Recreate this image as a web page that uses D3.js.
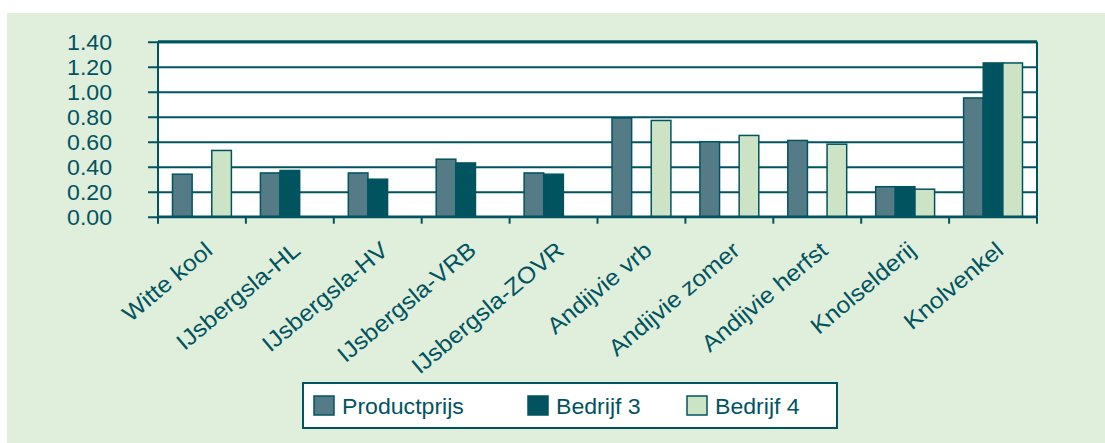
<!DOCTYPE html>
<html>
<head>
<meta charset="utf-8">
<script src="https://cdn.jsdelivr.net/npm/d3@7"></script>
<style>
  body { margin: 0; background: #fff; }
  text { font-family: "Liberation Sans", Arial, sans-serif; fill: #005460; }
</style>
</head>
<body>
<div id="chart"></div>
<script>
// data
var categories = ["Witte kool", "IJsbergsla-HL", "IJsbergsla-HV", "IJsbergsla-VRB", "IJsbergsla-ZOVR",
  "Andijvie vrb", "Andijvie zomer", "Andijvie herfst", "Knolselderij", "Knolvenkel"]
var seriesNames = ["Productprijs", "Bedrijf 3", "Bedrijf 4"]
var productprijs = [0.34, 0.35, 0.35, 0.46, 0.35, 0.79, 0.60, 0.61, 0.24, 0.95]
var bedrijf3 = [null, 0.37, 0.30, 0.43, 0.34, null, null, null, 0.24, 1.23]
var bedrijf4 = [0.53, null, null, null, null, 0.77, 0.65, 0.58, 0.22, 1.23]
var yTicks = [0, 0.2, 0.4, 0.6, 0.8, 1.0, 1.2, 1.4]

var colors = ["#557b86", "#00535f", "#cde3c5"]
var ink = "#005460"
var stretch = 1.05   // text in the original is a little wider than normal

var screen = {width: 1105, height: 443}
var plot = {left: 158, right: 1037, top: 41.7, bottom: 216.7}

var svg = d3.select("#chart").append("svg")
  .attr("width", screen.width)
  .attr("height", screen.height)

// panel background
svg.append("rect")
  .attr("x", 7).attr("y", 13)
  .attr("width", screen.width - 7).attr("height", screen.height - 13)
  .style("fill", "#e0eedc")

svg.append("rect")
  .attr("x", plot.left).attr("y", plot.top)
  .attr("width", plot.right - plot.left).attr("height", plot.bottom - plot.top)
  .style("fill", "#fff")

// scales
var xScale = d3.scaleBand()
  .domain(categories)
  .range([plot.left, plot.right])
  .paddingInner(0.33)
  .paddingOuter(0.165)
var subScale = d3.scaleBand()
  .domain(seriesNames)
  .range([0, xScale.bandwidth()])
var yScale = d3.scaleLinear()
  .domain([0, 1.4])
  .range([plot.bottom, plot.top])

// gridlines + y axis
var yAxis = d3.axisLeft(yScale)
  .tickValues(yTicks)
  .tickSize(-(plot.right - plot.left))
  .tickFormat(d3.format(".2f"))
var yg = svg.append("g")
  .attr("transform", "translate(" + plot.left + ",0)")
  .call(yAxis)
yg.select(".domain").remove()
yg.selectAll(".tick line")
  .attr("x1", -10)
  .style("stroke", ink).style("stroke-width", 2)
yg.selectAll(".tick text")
  .attr("x", 0).attr("dy", "0.36em")
  .attr("transform", "translate(-46,0) scale(" + stretch + ",1)")
  .style("font-size", "22px")
  .style("fill", ink)

// bars
var table = categories.map(function(c, i) {
  return {cat: c, values: [productprijs[i], bedrijf3[i], bedrijf4[i]]}
})
var groups = svg.selectAll(".grp")
  .data(table)
  .enter().append("g")
  .attr("class", "grp")
  .attr("transform", function(d) { return "translate(" + xScale(d.cat) + ",0)" })
groups.selectAll("rect")
  .data(function(d) {
    return d.values.map(function(v, j) { return {name: seriesNames[j], v: v, j: j} })
      .filter(function(e) { return e.v != null })
  })
  .enter().append("rect")
  .attr("x", function(d) { return subScale(d.name) })
  .attr("y", function(d) { return yScale(d.v) })
  .attr("width", subScale.bandwidth())
  .attr("height", function(d) { return yScale(0) - yScale(d.v) })
  .style("fill", function(d) { return colors[d.j] })
  .style("stroke", ink)
  .style("stroke-width", 1.5)

// frame
svg.append("line")
  .attr("x1", plot.left).attr("x2", plot.right)
  .attr("y1", plot.top).attr("y2", plot.top)
  .style("stroke", ink).style("stroke-width", 3)
svg.append("line")
  .attr("x1", plot.right).attr("x2", plot.right)
  .attr("y1", plot.top).attr("y2", plot.bottom)
  .style("stroke", ink).style("stroke-width", 2)
svg.append("line")
  .attr("x1", plot.left).attr("x2", plot.left)
  .attr("y1", plot.top).attr("y2", plot.bottom + 6)
  .style("stroke", ink).style("stroke-width", 2)
svg.append("line")
  .attr("x1", plot.left).attr("x2", plot.right)
  .attr("y1", plot.bottom).attr("y2", plot.bottom)
  .style("stroke", ink).style("stroke-width", 2.5)

// x ticks on category boundaries
var step = xScale.step()
svg.selectAll(".xtick")
  .data(d3.range(categories.length + 1))
  .enter().append("line")
  .attr("class", "xtick")
  .attr("x1", function(i) { return plot.left + i * step })
  .attr("x2", function(i) { return plot.left + i * step })
  .attr("y1", plot.bottom).attr("y2", plot.bottom + 7)
  .style("stroke", ink).style("stroke-width", 2)

// x labels
svg.selectAll(".xlabel")
  .data(categories)
  .enter().append("text")
  .attr("class", "xlabel")
  .attr("text-anchor", "end")
  .attr("transform", function(d) {
    return "translate(" + (xScale(d) + xScale.bandwidth() / 2 + 12) + "," + (plot.bottom + 36) +
      ") rotate(-40) scale(1.08,1)"
  })
  .style("font-size", "23px")
  .style("fill", ink)
  .text(function(d) { return d })

// legend
var legend = svg.append("g")
legend.append("rect")
  .attr("x", 303).attr("y", 383)
  .attr("width", 534).attr("height", 45)
  .style("fill", "#fff")
  .style("stroke", ink).style("stroke-width", 2)
var legendX = [314, 528, 687]
seriesNames.forEach(function(name, j) {
  legend.append("rect")
    .attr("x", legendX[j]).attr("y", 396)
    .attr("width", 20).attr("height", 19)
    .style("fill", colors[j])
    .style("stroke", ink).style("stroke-width", 1.5)
  legend.append("text")
    .attr("transform", "translate(" + (legendX[j] + 28) + ",414) scale(" + stretch + ",1)")
    .style("font-size", "22px")
    .style("fill", ink)
    .text(name)
})
</script>
</body>
</html>
